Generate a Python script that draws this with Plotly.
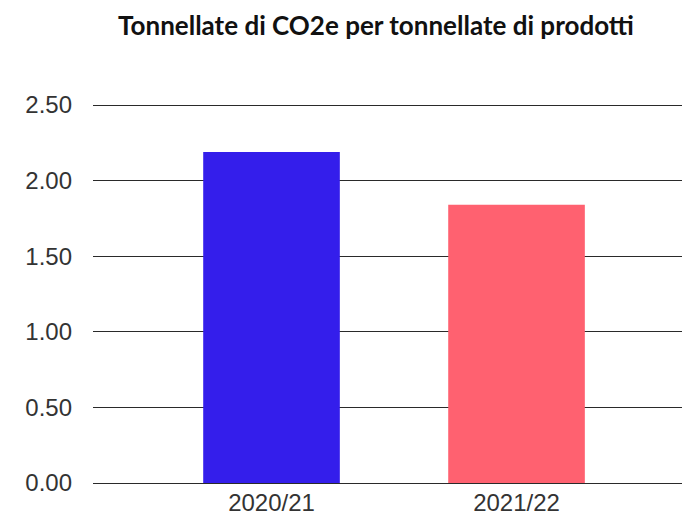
import plotly.graph_objects as go

categories = ["2020/21", "2021/22"]
values = [2.19, 1.84]
colors = ["#341EEB", "#FF6170"]
y_ticks = [0, 0.5, 1.0, 1.5, 2.0, 2.5]
y_tick_labels = ["0.00", "0.50", "1.00", "1.50", "2.00", "2.50"]
title_text = "Tonnellate di CO2e per tonnellate di prodotti"

# the page body has an 8px margin, so the figure is shrunk by 8px on each side
OFF = 8
W, H = 690 - OFF, 516 - OFF

fig = go.Figure(
    go.Bar(
        x=categories,
        y=values,
        marker=dict(color=colors, line=dict(width=0)),
        width=0.5576,
        hoverinfo="x+y",
    )
)

fig.update_layout(
    width=W,
    height=H,
    margin=dict(l=93 - OFF, r=0, t=102 - OFF, b=516 - 483),
    paper_bgcolor="white",
    plot_bgcolor="white",
    showlegend=False,
    title=dict(
        text="<b>" + title_text + "</b>",
        x=(376 - OFF) / W,
        xanchor="center",
        y=1 - (26 - OFF) / H,
        yanchor="middle",
        font=dict(family="Lato", size=26, color="#111111"),
    ),
    font=dict(family="Liberation Sans", color="#333333"),
)

fig.update_xaxes(
    type="category",
    range=[-0.7286, 1.708],
    showgrid=False,
    showline=False,
    ticks="",
    ticklabelstandoff=3,
    tickfont=dict(family="Liberation Sans", size=24, color="#333333"),
    automargin=False,
)

fig.update_yaxes(
    range=[0, 2.52],
    tickvals=y_ticks,
    ticktext=y_tick_labels,
    showgrid=True,
    gridcolor="#2a2a2a",
    gridwidth=1.3,
    zeroline=True,
    zerolinecolor="#2a2a2a",
    zerolinewidth=1.3,
    showline=False,
    ticks="",
    ticklabelstandoff=20,
    tickfont=dict(family="Liberation Sans", size=24, color="#333333"),
    automargin=False,
)

fig.write_html("out.html")
